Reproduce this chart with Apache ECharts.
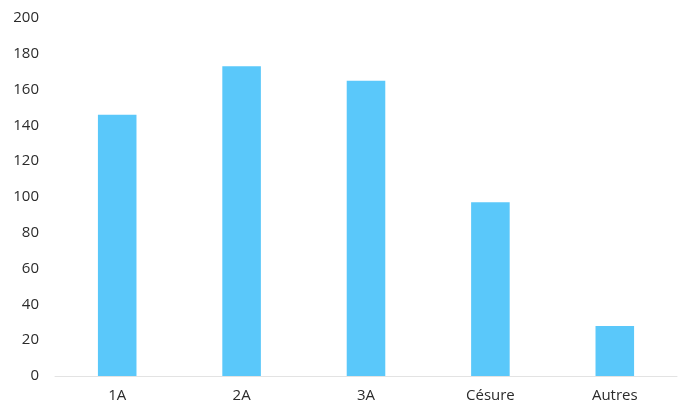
<!DOCTYPE html>
<html>
<head>
<meta charset="utf-8">
<script src="https://cdn.jsdelivr.net/npm/echarts@6/dist/echarts.min.js"></script>
<style>
  html, body { margin: 0; padding: 0; background: #fff; }
  #bar { width: 692px; height: 411px; }
</style>
</head>
<body>
<div id="bar"></div>
<script>
// data
const categories = ['1A', '2A', '3A', 'Césure', 'Autres']
const counts = [146, 173, 165, 97, 28]

let myChart = echarts.init(document.getElementById('bar'))
myChart.setOption({
    animation: false,
    grid: {
        left: 55,
        right: 15,
        top: 18,
        bottom: 35
    },
    xAxis: {
        type: 'category',
        data: categories,
        axisTick: { show: false },
        axisLine: { lineStyle: { color: '#e3e3e3', width: 1 } },
        axisLabel: {
            color: '#2b2b2b',
            fontSize: 15,
            fontFamily: 'Open Sans',
            margin: 12
        }
    },
    yAxis: {
        type: 'value',
        min: 0,
        max: 200,
        interval: 20,
        splitLine: { show: false },
        axisLine: { show: false },
        axisTick: { show: false },
        axisLabel: {
            color: '#2b2b2b',
            fontSize: 15,
            fontFamily: 'Open Sans',
            margin: 16
        }
    },
    series: [
        {
            type: 'bar',
            data: counts,
            barWidth: '31%',
            itemStyle: { color: '#5ac8fa' }
        }
    ]
})
</script>
</body>
</html>
